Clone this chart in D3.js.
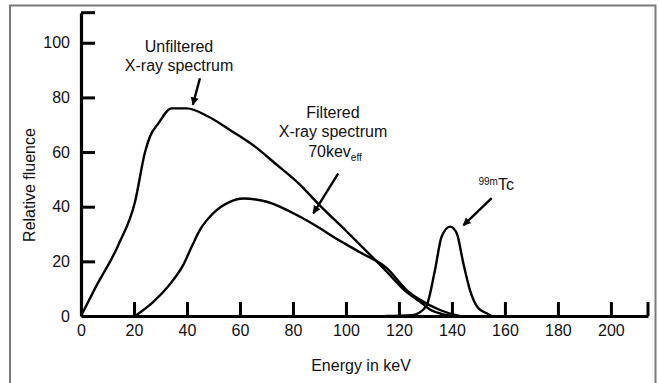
<!DOCTYPE html>
<html>
<head>
<meta charset="utf-8">
<script src="https://cdn.jsdelivr.net/npm/d3@7"></script>
<style>
  html, body { margin: 0; padding: 0; background: #fff; }
  svg { display: block; font-family: "Liberation Sans", Arial, sans-serif; }
</style>
</head>
<body>
<svg id="chart" width="659" height="383"></svg>
<script>
// ---- data ----
const xTicks = [0, 20, 40, 60, 80, 100, 120, 140, 160, 180, 200];
const yTicks = [0, 20, 40, 60, 80, 100];
const xLabel = "Energy in keV";
const yLabel = "Relative fluence";

const unfilteredEnergy  = [0, 5.3, 14.1, 20.4, 24.2, 26.0, 29.2, 34.2, 39.9, 48.0, 56.2, 65.7, 73.2, 82.7, 90.2, 100, 108, 115.4, 122, 128, 131.7, 136, 141.5];
const unfilteredFluence = [0, 10.1, 26.0, 41.8, 60.1, 65.6, 70.5, 76.0, 76.0, 73.0, 68.1, 62.0, 55.9, 48.0, 40.4, 31.2, 23.5, 16.2, 9.5, 5.2, 2.4, 0.8, 0];

const filteredEnergy  = [20.4, 27.3, 33, 38.6, 41.8, 44.9, 49.9, 56.2, 61.3, 70.1, 82.7, 90.2, 95.2, 105.3, 115.4, 122.9, 128, 135.5, 141.2, 143];
const filteredFluence = [0, 5.2, 11, 18.7, 25.4, 31.5, 37.6, 41.8, 43.0, 41.8, 36.3, 32.1, 29.0, 23.3, 17.5, 9.5, 5.9, 2.2, 0.4, 0];

const tcEnergy  = [115, 125, 127.3, 130.5, 133.6, 136.1, 139.3, 141.8, 144.3, 146.8, 150, 153.1, 155];
const tcFluence = [0, 0.3, 1.0, 4.0, 16.8, 29.0, 32.7, 30.3, 19.3, 9.5, 2.8, 1.0, 0];

// annotation anchors in data units: [label x, label y(s)], arrow [from, to]
const annUnfiltered = { lines: ["Unfiltered", "X-ray spectrum"], x: 37, y: [96.5, 89.8], arrow: [[44.9, 87.0], [42.2, 77.3]] };
const annFiltered   = { lines: ["Filtered", "X-ray spectrum"], x: 95.1, y: [72.4, 65.6, 58.3], arrow: [[97.1, 52.2], [87.7, 37.6]] };
const annTc         = { x: 150, y: 46.1, arrow: [[155.0, 43.1], [144.3, 33.2]] };

// ---- layout ----
const svg = d3.select("#chart");
const X0 = 81, X1 = 648, Y0 = 316, Y1 = 12.7;
const x = d3.scaleLinear().domain([0, 214]).range([X0, X1]);
const y = d3.scaleLinear().domain([0, 111]).range([Y0, Y1]);

// frame
svg.append("rect").attr("x", 10).attr("y", 5.5).attr("width", 645.5).attr("height", 390)
  .attr("fill", "none").attr("stroke", "#7a7a7a").attr("stroke-width", 2);

// axes
const ax = svg.append("g").attr("transform", `translate(0,${Y0})`)
  .call(d3.axisBottom(x).tickValues(xTicks).tickSize(-14).tickPadding(9).tickSizeOuter(0));
const ay = svg.append("g").attr("transform", `translate(${X0},0)`)
  .call(d3.axisLeft(y).tickValues(yTicks).tickSize(-14).tickPadding(11).tickSizeOuter(0));
[ax, ay].forEach(g => {
  g.select(".domain").attr("stroke", "#000").attr("stroke-width", 3.2);
  g.selectAll(".tick line").attr("stroke", "#000").attr("stroke-width", 3);
  g.selectAll(".tick text").attr("font-size", 16).attr("fill", "#111")
    .attr("font-family", "Liberation Sans, Arial, sans-serif");
});
ax.selectAll(".tick").filter(d => d === 0).select("line").remove();
ay.selectAll(".tick").filter(d => d === 0).select("line").remove();
// end caps
ax.append("line").attr("x1", x(214)).attr("x2", x(214)).attr("y1", 0).attr("y2", -14)
  .attr("stroke", "#000").attr("stroke-width", 3);
ay.append("line").attr("x1", 0).attr("x2", 14).attr("y1", y(111)).attr("y2", y(111))
  .attr("stroke", "#000").attr("stroke-width", 3);

// axis titles
svg.append("text").attr("x", 361).attr("y", 371).attr("text-anchor", "middle")
  .attr("font-size", 16).attr("fill", "#111").text(xLabel);
svg.append("text").attr("transform", "translate(35,185) rotate(-90)").attr("text-anchor", "middle")
  .attr("font-size", 16).attr("fill", "#111").text(yLabel);

// curves
const line = d3.line().x(d => x(d[0])).y(d => y(d[1])).curve(d3.curveMonotoneX);
const series = [
  d3.zip(unfilteredEnergy, unfilteredFluence),
  d3.zip(filteredEnergy, filteredFluence),
  d3.zip(tcEnergy, tcFluence)
];
svg.selectAll("path.curve").data(series).join("path").attr("class", "curve")
  .attr("d", line).attr("fill", "none").attr("stroke", "#000").attr("stroke-width", 2.4)
  .attr("stroke-linejoin", "round");

// arrow marker
svg.append("defs").append("marker").attr("id", "ah")
  .attr("viewBox", "0 0 10 10").attr("refX", 9).attr("refY", 5)
  .attr("markerUnits", "userSpaceOnUse").attr("markerWidth", 9).attr("markerHeight", 8)
  .attr("orient", "auto")
  .append("path").attr("d", "M0,0 L10,5 L0,10 z").attr("fill", "#000");

function arrow(a) {
  svg.append("line").attr("x1", x(a[0][0])).attr("y1", y(a[0][1]))
    .attr("x2", x(a[1][0])).attr("y2", y(a[1][1]))
    .attr("stroke", "#000").attr("stroke-width", 2.4).attr("marker-end", "url(#ah)");
}

// annotations
annUnfiltered.lines.forEach((t, i) => {
  svg.append("text").attr("x", x(annUnfiltered.x)).attr("y", y(annUnfiltered.y[i]))
    .attr("text-anchor", "middle").attr("font-size", 16).attr("fill", "#111").text(t);
});
arrow(annUnfiltered.arrow);

annFiltered.lines.forEach((t, i) => {
  svg.append("text").attr("x", x(annFiltered.x)).attr("y", y(annFiltered.y[i]))
    .attr("text-anchor", "middle").attr("font-size", 16).attr("fill", "#111").text(t);
});
const t3 = svg.append("text").attr("x", x(annFiltered.x) + 2).attr("y", y(annFiltered.y[2]))
  .attr("text-anchor", "middle").attr("font-size", 16).attr("fill", "#111");
t3.append("tspan").text("70kev");
t3.append("tspan").attr("font-size", 10).attr("dy", 4).text("eff");
arrow(annFiltered.arrow);

const tc = svg.append("text").attr("x", x(annTc.x)).attr("y", y(annTc.y))
  .attr("font-size", 16).attr("fill", "#111");
tc.append("tspan").attr("font-size", 10).attr("dy", -5).text("99m");
tc.append("tspan").attr("dy", 5).text("Tc");
arrow(annTc.arrow);
</script>
</body>
</html>
